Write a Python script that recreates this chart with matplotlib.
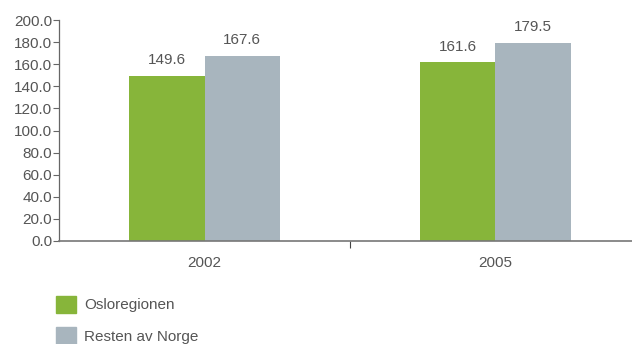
import matplotlib.pyplot as plt
import numpy as np
from matplotlib.patches import Patch

# data
years = ['2002', '2005']
oslo = [149.6, 161.6]
resten = [167.6, 179.5]
series_names = ['Osloregionen', 'Resten av Norge']
yticks = np.arange(0, 201, 20)

green = '#87b53a'
grey = '#a8b5be'
txt = '#555555'

plt.rcParams['font.family'] = ['Liberation Sans', 'DejaVu Sans']

fig = plt.figure(figsize=(6.32, 3.44), dpi=100)
# axis runs a little past the right edge of the picture
ax = fig.add_axes([59 / 632, 103 / 344, 582 / 632, 221 / 344])

x = np.arange(len(years))
w = 0.26
b1 = ax.bar(x - w / 2, oslo, w, color=green, zorder=2)
b2 = ax.bar(x + w / 2, resten, w, color=grey, zorder=2)

for bars, vals in ((b1, oslo), (b2, resten)):
    for rect, v in zip(bars, vals):
        ax.text(rect.get_x() + rect.get_width() / 2, v + 8, f'{v:.1f}',
                ha='center', va='bottom', fontsize=11, color=txt)

ax.set_xlim(-0.5, len(years) - 0.5)
ax.set_ylim(0, 200)
ax.set_yticks(yticks)
ax.set_yticklabels([f'{t:.1f}' for t in yticks], fontsize=11, color=txt)
ax.set_xticks(x)
ax.set_xticklabels(years, fontsize=11, color=txt)
ax.tick_params(axis='x', length=0, pad=11)
ax.tick_params(axis='y', length=4, width=0.8, color='#666666', pad=1)
ax.set_xticks([0.5], minor=True)
ax.tick_params(axis='x', which='minor', length=5, width=0.8, color='#444444', direction='out')

for s in ['top', 'right']:
    ax.spines[s].set_visible(False)
ax.spines['left'].set_color('#666666')
ax.spines['bottom'].set_color('#777777')
ax.spines['left'].set_linewidth(0.9)
ax.spines['bottom'].set_linewidth(1.2)

handles = [Patch(color=green), Patch(color=grey)]
fig.legend(handles, series_names, loc='upper left', bbox_to_anchor=(56 / 632, 48 / 344),
           frameon=False, fontsize=11, labelcolor=txt, handlelength=1.3,
           handleheight=1.3, handletextpad=0.55, labelspacing=0.95,
           borderaxespad=0, borderpad=0)

fig.savefig('out.png', dpi=100)
